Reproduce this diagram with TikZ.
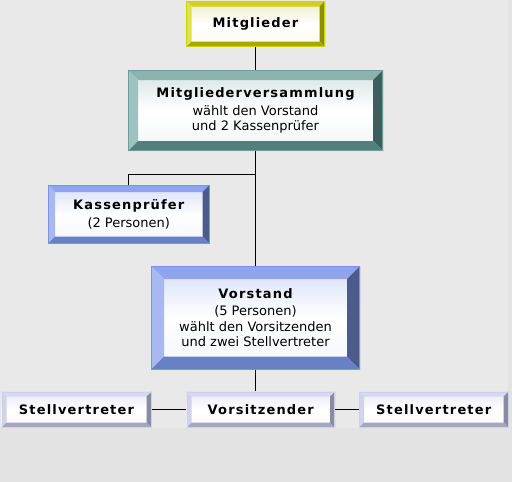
\documentclass[tikz,border=0pt]{standalone}
\usepackage{fontspec}
\setmainfont{DejaVu Sans}
\newfontfamily\ttlfont[LetterSpace=9]{DejaVu Sans}
\definecolor{bgA}{HTML}{E9E9E9}
\definecolor{bgB}{HTML}{E3E3E3}
% yellow
\definecolor{yT}{HTML}{D2D214}
\definecolor{yL}{HTML}{E0E050}
\definecolor{yR}{HTML}{8E8E00}
\definecolor{yB}{HTML}{A8A800}
\definecolor{yO}{HTML}{CFCF10}
\definecolor{yF}{HTML}{ECECC4}
% teal
\definecolor{tT}{HTML}{8BB3B0}
\definecolor{tL}{HTML}{9EC2C0}
\definecolor{tR}{HTML}{3E5F5E}
\definecolor{tB}{HTML}{517F7E}
\definecolor{tO}{HTML}{6AA0A0}
\definecolor{tF}{HTML}{D4E2E2}
% blue
\definecolor{bT}{HTML}{90A4EC}
\definecolor{bL}{HTML}{A8B8F0}
\definecolor{bR}{HTML}{4C5A8C}
\definecolor{bB}{HTML}{6880C4}
\definecolor{bO}{HTML}{7B93E3}
\definecolor{bF}{HTML}{D6DEF8}
% lavender
\definecolor{lT}{HTML}{D8D8F0}
\definecolor{lL}{HTML}{D2D2EA}
\definecolor{lR}{HTML}{8A8AA2}
\definecolor{lB}{HTML}{A6A6BE}
\definecolor{lO}{HTML}{D0D0E8}
\definecolor{lF}{HTML}{E8E8F4}
\tikzset{
  conn/.style={draw=black, line width=1pt},
  boxtext/.style={inner sep=0pt, align=center, font=\fontsize{13}{15.5}\selectfont},
}
% name, x1, y1, x2, y2, bevel, palette, text
\newcommand{\bevelbox}[8]{%
  \shade[top color=#7F, bottom color=#7F!30, middle color=white]
    (#2,#3) rectangle (#4,#5);
  \fill[#7T] (#2,#3) -- (#4,#3) -- ({#4-#6},{#3+#6}) -- ({#2+#6},{#3+#6}) -- cycle;
  \fill[#7L] (#2,#3) -- ({#2+#6},{#3+#6}) -- ({#2+#6},{#5-#6}) -- (#2,#5) -- cycle;
  \fill[#7R] (#4,#3) -- (#4,#5) -- ({#4-#6},{#5-#6}) -- ({#4-#6},{#3+#6}) -- cycle;
  \fill[#7B] (#2,#5) -- (#4,#5) -- ({#4-#6},{#5-#6}) -- ({#2+#6},{#5-#6}) -- cycle;
  \draw[#7O, line width=1pt] ({#2+0.5},{#3+0.5}) rectangle ({#4-0.5},{#5-0.5});
  \node[boxtext, minimum width={(#4-#2)*1pt}, minimum height={(#5-#3)*1pt}]
    (#1) at ({(#2+#4)/2},{(#3+#5)/2}) {#8};
}
\newcommand{\ttl}[1]{{\ttlfont\bfseries\fontsize{13}{15}\selectfont #1}}
\begin{document}
\begin{tikzpicture}[x=1pt, y=-1pt]
  \useasboundingbox (0,0) rectangle (512,482);
  \fill[bgB] (0,0) rectangle (512,482);
  \fill[bgA] (0,0) rectangle (508,428);

  \bevelbox{mg}{186}{1}{325}{47}{5.5}{y}{\ttl{Mitglieder}}
  \bevelbox{mv}{128}{70}{383}{151}{10}{t}{\ttl{Mitgliederversammlung}\\[2pt]wählt den Vorstand\\und 2 Kassenprüfer}
  \bevelbox{kp}{48}{185}{209.5}{243.5}{7}{b}{\ttl{Kassenprüfer}\\[2pt](2 Personen)}
  \bevelbox{vs}{151}{266}{360}{369.5}{13}{b}{\ttl{Vorstand}\\[2pt](5 Personen)\\wählt den Vorsitzenden\\und zwei Stellvertreter}
  \bevelbox{sl}{1.5}{391.5}{151.5}{427.5}{5}{l}{\ttl{Stellvertreter}}
  \bevelbox{vz}{186.5}{391.5}{335}{427.5}{5}{l}{\ttl{Vorsitzender}}
  \bevelbox{sr}{359}{391.5}{508.5}{427.5}{5}{l}{\ttl{Stellvertreter}}

  \coordinate (j1) at (255.5,174.5);
  \draw[conn] (mg.south) -- (mv.north);
  \draw[conn] (mv.south) -- (vs.north);
  \draw[conn] (kp.north) |- (j1);
  \draw[conn] (vs.south) -- (vs.south |- vz.north);
  \draw[conn] (sl.east) -- (vz.west);
  \draw[conn] (vz.east) -- (sr.west);
\end{tikzpicture}
\end{document}
